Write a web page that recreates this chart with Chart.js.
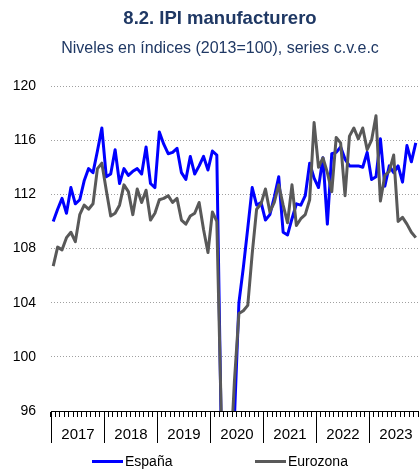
<!DOCTYPE html>
<html>
<head>
<meta charset="utf-8">
<script src="https://cdn.jsdelivr.net/npm/chart.js@4"></script>
<style>
  body { margin: 0; background: #fff; }
  #wrap { position: relative; width: 419px; height: 469px; }
  .key { position: absolute; top: 452px; font: 14px "Liberation Sans", Arial, sans-serif; color: #000; line-height: 18px; white-space: nowrap; }
  .key i { display: inline-block; width: 31px; height: 3px; vertical-align: middle; margin-right: 2px; position: relative; top: -1px; }
</style>
</head>
<body>
<div id="wrap">
  <canvas id="ipiChart" width="419" height="469"></canvas>
  <div class="key" style="left:92px"><i style="background:#0000ff"></i>España</div>
  <div class="key" style="left:255px"><i style="background:#595959"></i>Eurozona</div>
</div>
<script>
const FONT = '"Liberation Sans", Arial, sans-serif';

const titleText = '8.2. IPI manufacturero';
const subtitleText = 'Niveles en índices (2013=100), series c.v.e.c';

const years = ['2017', '2018', '2019', '2020', '2021', '2022', '2023'];
const monthNames = ['ene', 'feb', 'mar', 'abr', 'may', 'jun', 'jul', 'ago', 'sep', 'oct', 'nov', 'dic'];

// Indices 2013=100, monthly, jan 2017 - nov 2023
const spainValues = [
    110.0, 110.9, 111.7, 110.6, 112.5, 111.3, 111.6, 113.0, 113.9, 113.6, 115.2, 116.9,
    113.3, 113.5, 115.3, 112.8, 113.9, 113.4, 113.7, 113.9, 113.5, 115.5, 112.8, 112.5,
    116.6, 115.7, 115.0, 115.1, 115.4, 113.6, 113.1, 114.8, 113.5, 114.1, 114.8, 113.8,
    115.2, 114.9, 94.5, 72.0, 86.0, 95.6, 104.0, 106.6, 109.5, 112.5, 111.2, 111.4,
    110.1, 110.5, 111.8, 113.3, 109.2, 109.0, 110.2, 111.3, 111.2, 111.9, 114.3, 113.2,
    112.5, 114.7, 109.8, 115.0, 115.1, 115.5, 114.6, 114.1, 114.1, 114.1, 114.0, 115.1,
    113.1, 113.3, 116.1, 112.6, 114.1, 113.6, 114.1, 112.9, 115.6, 114.4, 115.8
];
const euroValues = [
    106.7, 108.1, 107.9, 108.8, 109.2, 108.5, 110.5, 111.2, 110.9, 111.3, 113.9, 114.3,
    112.3, 110.4, 110.6, 111.2, 112.7, 112.2, 110.5, 112.4, 111.4, 112.3, 110.1, 110.6,
    111.6, 111.7, 111.9, 111.4, 111.7, 110.1, 109.8, 110.4, 110.6, 111.4, 109.4, 107.7,
    110.7, 110.0, 95.8, 82.0, 92.0, 98.3, 103.2, 103.4, 103.8, 107.6, 110.9, 111.3,
    112.4, 110.7, 111.4, 112.7, 111.2, 109.9, 112.7, 109.7, 110.2, 110.5, 111.6, 117.3,
    114.0, 114.7, 113.6, 112.2, 116.2, 115.8, 111.9, 116.3, 116.9, 116.1, 116.9, 115.3,
    116.0, 117.8, 111.5, 113.4, 113.7, 114.9, 110.0, 110.3, 109.8, 109.2, 108.8
];

const months = [];
years.forEach(y => monthNames.forEach(m => months.push(m + '-' + y.slice(2))));
months.length = spainValues.length;

// title block, centred a little right of the canvas middle
const headings = {
    id: 'headings',
    afterDraw(chart) {
        const ctx = chart.ctx;
        ctx.save();
        ctx.fillStyle = '#1f3864';
        ctx.textAlign = 'center';
        ctx.textBaseline = 'middle';
        ctx.font = 'bold 18.5px ' + FONT;
        ctx.fillText(titleText, 220, 19);
        ctx.font = '16px ' + FONT;
        ctx.fillText(subtitleText, 220, 49);
        ctx.restore();
    }
};

// year captions and separators under the monthly tick marks
const yearAxis = {
    id: 'yearAxis',
    afterDraw(chart) {
        const x = chart.scales.x;
        const ctx = chart.ctx;
        const step = x.getPixelForValue(1) - x.getPixelForValue(0);
        const top = chart.chartArea.bottom;
        ctx.save();
        ctx.strokeStyle = '#000';
        ctx.lineWidth = 1;
        ctx.fillStyle = '#000';
        ctx.font = '15px ' + FONT;
        ctx.textAlign = 'center';
        ctx.textBaseline = 'middle';
        years.forEach((yr, k) => {
            const edge = Math.round(x.getPixelForValue(k * 12) - step / 2) + 0.5;
            ctx.beginPath();
            ctx.moveTo(edge, top);
            ctx.lineTo(edge, top + 32);
            ctx.stroke();
            ctx.fillText(yr, edge + step * 6, top + 24);
        });
        ctx.restore();
    }
};

new Chart(document.getElementById('ipiChart'), {
    type: 'line',
    data: {
        labels: months,
        datasets: [
            {
                label: 'España',
                data: spainValues,
                borderColor: '#0000ff',
                borderWidth: 3,
                pointRadius: 0,
                borderJoinStyle: 'round',
                order: 1
            },
            {
                label: 'Eurozona',
                data: euroValues,
                borderColor: '#595959',
                borderWidth: 3,
                pointRadius: 0,
                borderJoinStyle: 'round',
                order: 0
            }
        ]
    },
    options: {
        responsive: false,
        animation: false,
        devicePixelRatio: 1,
        layout: { padding: { left: 0, right: 1, top: 86, bottom: 0 } },
        plugins: {
            legend: { display: false },
            tooltip: { enabled: false }
        },
        scales: {
            x: {
                type: 'category',
                offset: true,
                ticks: { display: false },
                grid: {
                    offset: true,
                    drawOnChartArea: false,
                    drawTicks: true,
                    tickLength: 6,
                    color: '#000',
                    lineWidth: 1
                },
                border: { display: true, color: '#000', width: 1 },
                afterFit: s => { s.height = 58; }
            },
            y: {
                min: 96,
                max: 120,
                ticks: {
                    stepSize: 4,
                    padding: 15,
                    color: '#000',
                    font: { family: FONT, size: 14 }
                },
                grid: { color: '#a0a0a0', lineWidth: 1, drawTicks: false },
                border: { display: false, dash: [1, 2] },
                afterFit: s => { s.width = 51; }
            }
        }
    },
    plugins: [headings, yearAxis]
});
</script>
</body>
</html>
